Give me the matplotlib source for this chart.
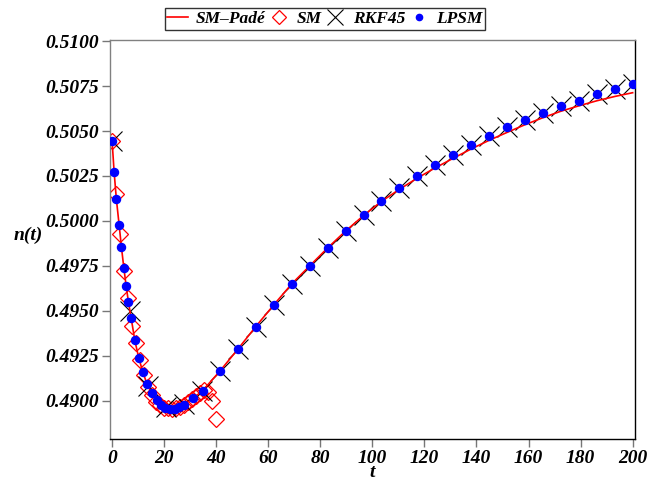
import matplotlib
matplotlib.use("Agg")
import matplotlib.pyplot as plt
from matplotlib.lines import Line2D
from matplotlib.ticker import FixedLocator, FormatStrFormatter

# ---- data ----
lpsm_t = [0, 0.77, 1.65, 2.7, 3.6, 4.5, 5.4, 6.3, 7.3, 8.7,
          10.2, 11.8, 13.4, 15.2, 17.2, 18.8, 20.5, 22.3, 24.2, 25.8,
          27.6, 31.2, 34.8, 41.4, 48.3, 55.2, 62.1, 69.0, 75.9, 82.8,
          89.7, 96.6, 103.4, 110.3, 117.2, 124.1, 131.0, 137.9, 144.8, 151.7,
          158.6, 165.5, 172.4, 179.3, 186.2, 193.1, 200.0]
lpsm_n = [0.50446, 0.50274, 0.50121, 0.49979, 0.49854, 0.49741, 0.49639, 0.49548, 0.49463, 0.49339,
          0.49241, 0.49161, 0.49094, 0.49043, 0.49006, 0.48978, 0.48963, 0.48957, 0.48957, 0.48965,
          0.48978, 0.49015, 0.49057, 0.49165, 0.49287, 0.49413, 0.49533, 0.49650, 0.49750, 0.49850,
          0.49944, 0.50033, 0.50111, 0.50183, 0.50250, 0.50311, 0.50367, 0.50422, 0.50471, 0.50521,
          0.50561, 0.50602, 0.50639, 0.50668, 0.50704, 0.50732, 0.50761]

pade_t = lpsm_t
pade_n = [0.50446, 0.50274, 0.50121, 0.49979, 0.49854, 0.49741, 0.49639, 0.49548, 0.49463, 0.49339,
          0.49241, 0.49161, 0.49094, 0.49043, 0.49006, 0.48978, 0.48963, 0.48957, 0.48957, 0.48965,
          0.48978, 0.49015, 0.49057, 0.49165, 0.49287, 0.49413, 0.49533, 0.49650, 0.49750, 0.49850,
          0.49944, 0.50030, 0.50108, 0.50175, 0.50238, 0.50295, 0.50348, 0.50400, 0.50448, 0.50492,
          0.50535, 0.50574, 0.50610, 0.50640, 0.50668, 0.50692, 0.50713]

rkf_t = [0, 6.9, 13.8, 20.7, 27.6, 34.5, 41.4, 48.3, 55.2, 62.1,
         69.0, 75.9, 82.8, 89.7, 96.6, 103.4, 110.3, 117.2, 124.1, 131.0,
         137.9, 144.8, 151.7, 158.6, 165.5, 172.4, 179.3, 186.2, 193.1, 200.0]
rkf_n = [0.50446, 0.49500, 0.49080, 0.48968, 0.48980, 0.49054, 0.49165, 0.49287, 0.49413, 0.49533,
         0.49650, 0.49750, 0.49850, 0.49944, 0.50033, 0.50111, 0.50183, 0.50250, 0.50311, 0.50367,
         0.50422, 0.50471, 0.50521, 0.50561, 0.50602, 0.50639, 0.50668, 0.50704, 0.50732, 0.50761]

sm_t = [0, 1.54, 3.08, 4.62, 6.15, 7.69, 9.23, 10.77, 12.31, 13.85,
        15.38, 16.92, 18.46, 20.0, 21.54, 23.08, 24.62, 26.15, 27.69, 29.23,
        30.77, 32.31, 33.85, 35.38, 36.92, 38.46, 40.0]
sm_n = [0.50446, 0.50150, 0.49930, 0.49720, 0.49570, 0.49418, 0.49320, 0.49225, 0.49145, 0.49075,
        0.49030, 0.48995, 0.48975, 0.48962, 0.48958, 0.48957, 0.48960, 0.48968, 0.48978, 0.48992,
        0.49008, 0.49025, 0.49045, 0.49060, 0.49050, 0.49002, 0.48898]

x_ticks = [0, 20, 40, 60, 80, 100, 120, 140, 160, 180, 200]
y_ticks = [0.4900, 0.4925, 0.4950, 0.4975, 0.5000, 0.5025, 0.5050, 0.5075, 0.5100]
legend_labels = ["SM\u2013Pad\u00e9", "SM", "RKF45", "LPSM"]

FONT = dict(family="Liberation Serif", weight="bold", style="italic")

fig = plt.figure(figsize=(6.49, 4.82), dpi=100)
ax = fig.add_axes([110/649, 1-439/482, (635-110)/649, (439-40)/482])

ax.plot(sm_t, sm_n, linestyle="none", marker="D", markersize=8.5,
        markerfacecolor="none", markeredgecolor="red", markeredgewidth=0.9, zorder=2)
ax.plot(rkf_t, rkf_n, linestyle="none", marker="x", markersize=15,
        color="black", markeredgewidth=0.8, zorder=3)
ax.plot(pade_t, pade_n, color="red", linewidth=1.2, zorder=4)
ax.plot(lpsm_t, lpsm_n, linestyle="none", marker="o", markersize=5.8,
        color="blue", zorder=5)

ax.set_xlim(-0.8, 200.9)
ax.set_ylim(0.48788, 0.51006)
ax.xaxis.set_major_locator(FixedLocator(x_ticks))
ax.yaxis.set_major_locator(FixedLocator(y_ticks))
ax.yaxis.set_major_formatter(FormatStrFormatter("%.4f"))
ax.tick_params(axis="both", direction="out", length=6, width=1, color="#777777", pad=2)
for lab in ax.get_xticklabels() + ax.get_yticklabels():
    lab.set_fontfamily(FONT["family"])
    lab.set_fontweight("bold")
    lab.set_fontstyle("italic")
    lab.set_fontsize(14)

for side in ("left", "top"):
    ax.spines[side].set_color("#808080")
for side in ("right", "bottom"):
    ax.spines[side].set_color("black")
for s in ax.spines.values():
    s.set_linewidth(1.0)

ax.set_xlabel("t", fontsize=14, va="bottom", **FONT)
ax.xaxis.set_label_coords(0.5, -(481 - 439) / 399)
ax.set_ylabel("n(t)", fontsize=14, rotation=0, va="center", ha="center", **FONT)
ax.yaxis.set_label_coords(-0.155, 0.51)

handles = [
    Line2D([], [], color="red", linewidth=1.2),
    Line2D([], [], linestyle="none", marker="D", markersize=7, markerfacecolor="none",
           markeredgecolor="red", markeredgewidth=0.9),
    Line2D([], [], linestyle="none", marker="x", markersize=11, color="black",
           markeredgewidth=0.8),
    Line2D([], [], linestyle="none", marker="o", markersize=4.5, color="blue"),
]
leg = fig.legend(handles, legend_labels,
                 loc="center", bbox_to_anchor=(325/649, 1-19/482), ncol=4,
                 frameon=True, fancybox=False, edgecolor="black",
                 prop=dict(family="Liberation Serif", weight="bold", style="italic", size=12.5),
                 handlelength=1.2, handletextpad=0.4, columnspacing=0.2,
                 borderpad=0.15, borderaxespad=0)
leg.get_frame().set_linewidth(1.0)

fig.savefig("out.png", dpi=100)
